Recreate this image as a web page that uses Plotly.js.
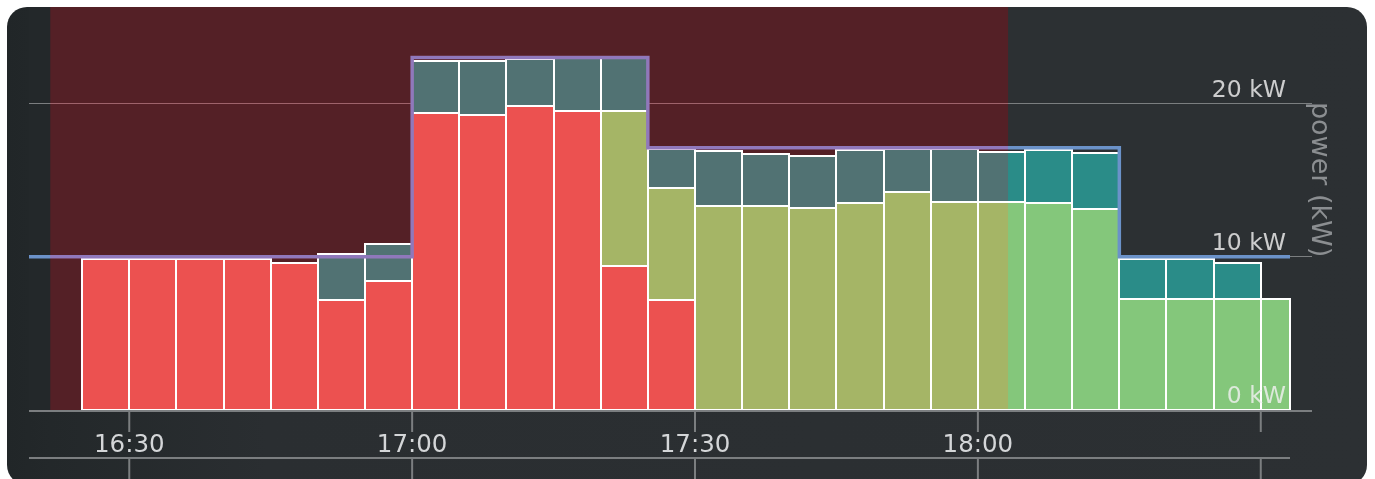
<!DOCTYPE html>
<html><head><meta charset="utf-8">
<script src="https://cdn.plot.ly/plotly-3.0.1.min.js"></script>
<style>
html,body{margin:0;padding:0;background:#ffffff;width:1375px;height:479px;overflow:hidden;}
#card{position:absolute;left:7px;top:7px;width:1360px;height:478px;border-radius:20px;
  background:linear-gradient(90deg,#212628 0px,#23282a 43px,#2a2e31 260px,#2c3033 100%);}
#chart{position:absolute;left:0;top:0;width:1375px;height:479px;}
</style></head><body>
<div id="card"></div><div id="chart"></div>
<script>
const day = '2024-03-12 ';
// 5-minute slots (start time) and their lengths in minutes (last one is partial)
const slotStart = ['16:25','16:30','16:35','16:40','16:45','16:50','16:55','17:00','17:05','17:10','17:15','17:20','17:25',
                   '17:30','17:35','17:40','17:45','17:50','17:55','18:00','18:05','18:10','18:15','18:20','18:25','18:30'];
const slotMinutes = [5,5,5,5,5,5,5,5,5,5,5,5,5,5,5,5,5,5,5,5,5,5,5,5,5,3.1];
// power in kW per slot
const gridKW    = [9.85,9.85,9.85,9.85,9.6,7.2,8.4,19.4,19.25,19.8,19.5,9.4,7.2,null,null,null,null,null,null,null,null,null,null,null,null,null];
const solarKW   = [null,null,null,null,null,null,null,null,null,null,null,10.1,7.3,13.32,13.3,13.16,13.48,14.2,13.57,13.56,13.49,13.14,7.22,7.22,7.22,7.22];
const batteryKW = [null,null,null,null,null,3.0,2.4,3.4,3.5,3.1,3.45,3.5,2.5,3.55,3.4,3.38,3.5,2.8,3.43,3.3,3.5,3.62,2.61,2.61,2.35,null];
// available power limit (step line)
const limitTimes = ['16:19:22','17:00','17:25','18:15','18:33:06'];
const limitKW    = [10,23,17.1,10,10];
// peak period highlight and axis extents
const peakStart = '16:21:37', peakEnd = '18:03:12';
const axisStart = '16:19:22', axisEnd = '18:35:26', dataEnd = '18:33:06';
const tickTimes = ['16:30','17:00','17:30','18:00','18:30'];
const yTicks = [0,10,20];
const yTickText = ['0 kW','10 kW','20 kW'];

const T = t => day + t;
const gray = '#7b7e80';
const font = 'DejaVu Sans, Verdana, sans-serif';
const overlayColor = 'rgb(209,74,86)';

function barTrace(vals, color, name){
  return {type:'bar', name:name, x:slotStart.map(T), y:vals,
    width:slotMinutes.map(m=>m*60000), offset:0,
    marker:{color:color, line:{color:'#ffffff', width:2}}, hoverinfo:'skip'};
}
const data = [
  barTrace(gridKW, '#e36b64', 'grid'),
  barTrace(solarKW, '#84c77b', 'solar'),
  barTrace(batteryKW, '#2a8c88', 'battery'),
  {type:'scatter', mode:'lines', x:limitTimes.map(T), y:limitKW,
   line:{shape:'hv', color:'#6b92c9', width:3.5}, hoverinfo:'skip'}
];

const tickY = -(432-410)/403, lowY = -(458-410)/403, botY = -(485-410)/403;
const shapes = [
  {type:'rect', xref:'x', yref:'paper', x0:T(axisStart), x1:T(peakStart), y0:0, y1:1,
   fillcolor:'#23282a', line:{width:0}, layer:'below'},
  {type:'rect', xref:'x', yref:'paper', x0:T(peakStart), x1:T(peakEnd), y0:0, y1:1,
   fillcolor:overlayColor, line:{width:0}, layer:'above'},
  {type:'line', xref:'x', yref:'paper', x0:T(axisStart), x1:T(dataEnd), y0:lowY, y1:lowY,
   line:{color:gray, width:2}}
];
tickTimes.forEach(t=>{
  shapes.push({type:'line', xref:'x', yref:'paper', x0:T(t), x1:T(t), y0:0, y1:tickY, line:{color:gray, width:2}});
  shapes.push({type:'line', xref:'x', yref:'paper', x0:T(t), x1:T(t), y0:lowY, y1:botY, line:{color:gray, width:2}});
});

const layout = {
  width:1375, height:479, margin:{l:29, r:63, t:7, b:69},
  paper_bgcolor:'rgba(0,0,0,0)', plot_bgcolor:'#2c3033',
  barmode:'stack', bargap:0, showlegend:false,
  xaxis:{type:'date', range:[T(axisStart), T(axisEnd)], tickvals:tickTimes.map(T), tickformat:'%H:%M',
    ticks:'', ticklabelstandoff:11,
    showline:true, linecolor:gray, linewidth:2, showgrid:false, zeroline:false,
    tickfont:{family:font, size:24.5, color:'#d4d6d8'}, fixedrange:true},
  yaxis:{range:[0,26.29], side:'right', tickvals:yTicks, ticktext:yTickText,
    showgrid:true, gridcolor:gray, gridwidth:1.5, zeroline:false, showline:false, ticks:'',
    ticklabelposition:'inside', ticklabelstandoff:23, ticklabelshift:-15,
    tickfont:{family:font, size:23.5, color:'rgba(240,240,240,0.82)'}, fixedrange:true},
  shapes:shapes,
  annotations:[{text:'power (kW)', textangle:90, xref:'paper', yref:'paper', x:1.007, y:0.571,
    xanchor:'center', yanchor:'middle', showarrow:false,
    font:{family:font, size:27, color:'#8b8e91'}}]
};
Plotly.newPlot('chart', data, layout, {displayModeBar:false, staticPlot:true}).then(()=>{
  document.querySelectorAll('.shapelayer path').forEach(p=>{
    if (p.style.fill.replace(/\s/g,'') === overlayColor) {
      const g = p.parentNode;
      const target = (g && g.classList.contains('shape-group') && g.childElementCount === 1) ? g : p;
      target.style.mixBlendMode = 'soft-light';
    }
  });
});
</script></body></html>
